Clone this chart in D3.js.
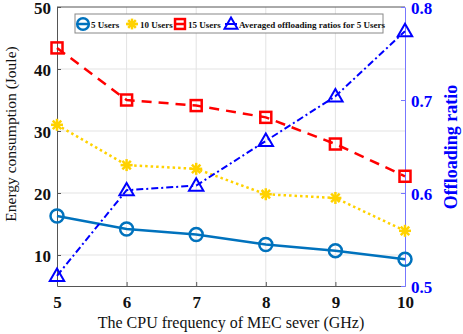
<!DOCTYPE html>
<html>
<head>
<meta charset="utf-8">
<script src="https://cdn.jsdelivr.net/npm/d3@7"></script>
<style>
  body { margin: 0; background: #fff; }
  svg { display: block; }
</style>
</head>
<body>
<svg id="chart" width="463" height="334"></svg>
<script>
var width = 463, height = 334

// data
var freqs = [5, 6, 7, 8, 9, 10]
var users5 = [16.3, 14.2, 13.3, 11.7, 10.7, 9.3]
var users10 = [31.0, 24.5, 23.9, 19.8, 19.2, 13.9]
var users15 = [43.4, 35.0, 34.1, 32.2, 27.9, 22.7]
var ratio5 = [0.511, 0.603, 0.608, 0.656, 0.704, 0.774]
var leftTicks = [10, 20, 30, 40, 50]
var rightTicks = [0.5, 0.6, 0.7, 0.8]

var m = {left: 57, right: 405, top: 7, bottom: 286}

var x = d3.scaleLinear().domain([5, 10]).range([m.left, m.right])
var yL = d3.scaleLinear().domain([5, 50]).range([m.bottom, m.top])
var yR = d3.scaleLinear().domain([0.5, 0.8]).range([m.bottom, m.top])

var svg = d3.select('#chart')
var serif = '"Liberation Serif", "DejaVu Serif", serif'

// grid
var grid = svg.append('g')
grid.selectAll('line.gx').data(freqs.slice(1, -1)).enter().append('line')
  .attr('x1', d => x(d)).attr('x2', d => x(d))
  .attr('y1', m.top).attr('y2', m.bottom)
  .attr('stroke', '#e3e3e3').attr('stroke-width', 1)
grid.selectAll('line.gy').data(leftTicks.slice(0, -1)).enter().append('line')
  .attr('x1', m.left).attr('x2', m.right)
  .attr('y1', d => yL(d)).attr('y2', d => yL(d))
  .attr('stroke', '#e3e3e3').attr('stroke-width', 1)

// frame
svg.append('line').attr('x1', m.left).attr('x2', m.right).attr('y1', m.top).attr('y2', m.top)
  .attr('stroke', '#555').attr('stroke-width', 1)

// axes
var xAxis = svg.append('g').attr('transform', 'translate(0,' + m.bottom + ')')
  .call(d3.axisBottom(x).tickValues(freqs).tickFormat(d3.format('d')).tickSizeInner(-4).tickSizeOuter(0).tickPadding(10))
var lAxis = svg.append('g').attr('transform', 'translate(' + m.left + ',0)')
  .call(d3.axisLeft(yL).tickValues(leftTicks).tickSizeInner(-4).tickSizeOuter(0).tickPadding(6))
var rAxis = svg.append('g').attr('transform', 'translate(' + m.right + ',0)')
  .call(d3.axisRight(yR).tickValues(rightTicks).tickFormat(d3.format('.1f')).tickSizeInner(-4).tickSizeOuter(0).tickPadding(6))

;[xAxis, lAxis].forEach(a => {
  a.select('.domain').attr('stroke', '#555')
  a.selectAll('.tick line').attr('stroke', '#555')
  a.selectAll('text').attr('fill', '#111')
})
rAxis.select('.domain').attr('stroke', '#7777ff')
rAxis.selectAll('.tick line').attr('stroke', '#7777ff')
rAxis.selectAll('text').attr('fill', '#0000ff')
svg.selectAll('.tick text')
  .style('font-family', serif).style('font-weight', 'bold').style('font-size', '17px')
xAxis.selectAll('.tick text').attr('dy', '0.72em')
lAxis.selectAll('.tick text').attr('dy', '0.36em')
rAxis.selectAll('.tick text').attr('dy', '0.36em')

// axis labels
svg.append('text').attr('x', (m.left + m.right) / 2 + 0).attr('y', 328)
  .attr('text-anchor', 'middle').style('font-family', serif).style('font-size', '16px')
  .attr('fill', '#111').text('The CPU frequency of MEC sever (GHz)')
svg.append('text').attr('transform', 'translate(16,' + 134 + ') rotate(-90)')
  .attr('text-anchor', 'middle').style('font-family', serif).style('font-size', '15.5px')
  .attr('fill', '#111').text('Energy consumption (Joule)')
svg.append('text').attr('transform', 'translate(457,' + 147 + ') rotate(-90)')
  .attr('text-anchor', 'middle').style('font-family', serif).style('font-size', '18px')
  .style('font-weight', 'bold').attr('fill', '#0000ff').text('Offloading ratio')

// series
var series = [
  {name: '5 Users', vals: users5, y: yL, color: '#0072BD', dash: null, width: 2.5, marker: 'circle'},
  {name: '10 Users', vals: users10, y: yL, color: '#FFD200', dash: '2.5,3', width: 2.5, marker: 'star'},
  {name: '15 Users', vals: users15, y: yL, color: '#FF0000', dash: '10,7', width: 2.5, marker: 'square'},
  {name: 'Averaged offloading ratios for 5 Users', vals: ratio5, y: yR, color: '#0000FF', dash: '7,3,2,3', width: 2, marker: 'triangle'}
]

function drawMarker(g, type, color, size) {
  var s = size || 1
  if (type == 'circle') {
    g.append('circle').attr('r', 6.5 * s).attr('fill', 'none').attr('stroke', color).attr('stroke-width', 2.5)
  } else if (type == 'square') {
    g.append('rect').attr('x', -5.5 * s).attr('y', -5.5 * s).attr('width', 11 * s).attr('height', 11 * s)
      .attr('fill', 'none').attr('stroke', color).attr('stroke-width', 2.5)
  } else if (type == 'triangle') {
    g.append('path').attr('d', d3.symbol().type(d3.symbolTriangle).size(90 * s * s))
      .attr('transform', 'translate(0,1)')
      .attr('fill', 'none').attr('stroke', color).attr('stroke-width', 2)
  } else if (type == 'star') {
    var r = 6 * s
    for (var i = 0; i < 4; i++) {
      var a = i * Math.PI / 4
      g.append('line').attr('x1', -r * Math.cos(a)).attr('y1', -r * Math.sin(a))
        .attr('x2', r * Math.cos(a)).attr('y2', r * Math.sin(a))
        .attr('stroke', color).attr('stroke-width', 2.5)
    }
  }
}

series.forEach(s => {
  var line = d3.line().x((d, i) => x(freqs[i])).y(d => s.y(d))
  svg.append('path').datum(s.vals).attr('d', line)
    .attr('fill', 'none').attr('stroke', s.color).attr('stroke-width', s.width)
    .attr('stroke-dasharray', s.dash)
  s.vals.forEach((v, i) => {
    var g = svg.append('g').attr('transform', 'translate(' + x(freqs[i]) + ',' + s.y(v) + ')')
    drawMarker(g, s.marker, s.color)
  })
})

// legend
var leg = svg.append('g')
leg.append('rect').attr('x', 75).attr('y', 14).attr('width', 308).attr('height', 19)
  .attr('fill', '#fff').attr('stroke', '#888').attr('stroke-width', 1)
var legX = [83, 132, 180, 231]
series.forEach((s, i) => {
  var g = leg.append('g').attr('transform', 'translate(' + legX[i] + ',24)')
  // short line sample through the marker
  g.append('line').attr('x1', -6).attr('x2', 6).attr('y1', 0).attr('y2', 0)
    .attr('stroke', s.color).attr('stroke-width', s.width)
  drawMarker(g, s.marker, s.color, 0.9)
  leg.append('text').attr('x', legX[i] + 8).attr('y', 27.5)
    .style('font-family', serif).style('font-weight', 'bold').style('font-size', '9px')
    .attr('fill', '#111').text(s.name)
})
</script>
</body>
</html>
